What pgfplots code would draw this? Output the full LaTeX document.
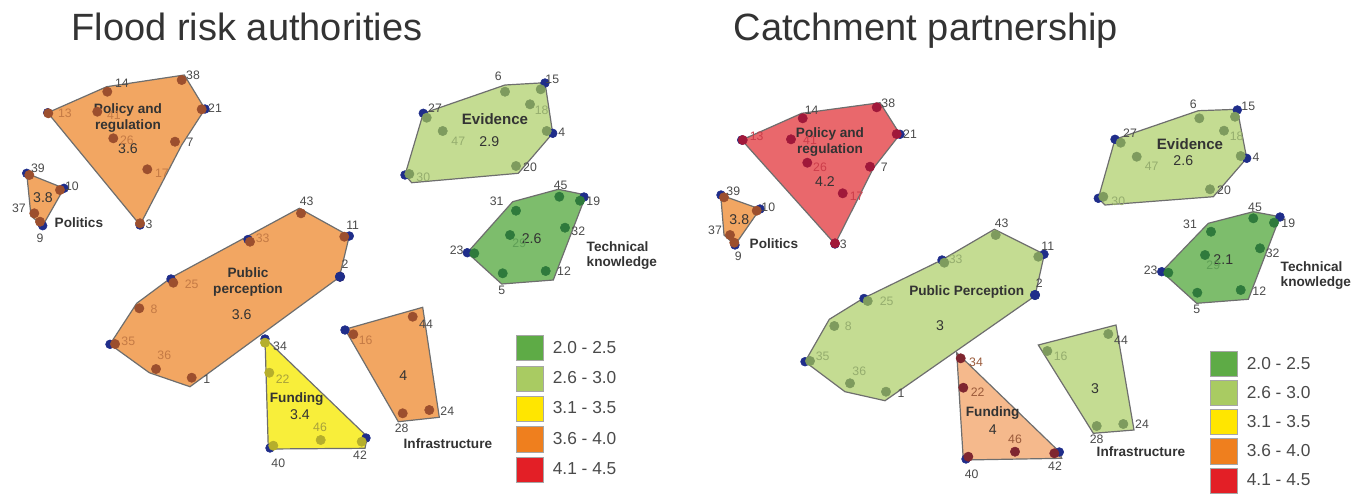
\documentclass[border=0pt]{standalone}
\usepackage{pgfplots}
\pgfplotsset{compat=1.18}
\usepackage{pgfplotstable}
\usepackage{fontspec}
\setmainfont{Liberation Sans}

% fills, points, labels
\definecolor{orF}{HTML}{F2A662}
\definecolor{orP}{HTML}{9C4F2E}
\definecolor{lgF}{HTML}{C4DC92}
\definecolor{lgP}{HTML}{7E9B5E}
\definecolor{dgF}{HTML}{7DBD6C}
\definecolor{dgP}{HTML}{2F7A3C}
\definecolor{yeF}{HTML}{F8EE3A}
\definecolor{yeP}{HTML}{B5AE2C}
\definecolor{reF}{HTML}{E9686C}
\definecolor{reP}{HTML}{A0183A}
\definecolor{loF}{HTML}{F5B98C}
\definecolor{loP}{HTML}{7F2630}
\definecolor{vtx}{HTML}{1F2D8A}
\definecolor{edge}{HTML}{6E6E6E}
\definecolor{lg}{HTML}{4A4A4A}
\definecolor{ttl}{HTML}{333333}
\definecolor{lbr}{HTML}{C47A45}
\definecolor{lol}{HTML}{95AD6E}
\definecolor{ldg}{HTML}{5E9E55}
\definecolor{lye}{HTML}{A8A13A}
\definecolor{lre}{HTML}{CC3D4A}
\definecolor{lfb}{HTML}{9A5A3A}
\definecolor{c1}{HTML}{5EAB46}
\definecolor{c2}{HTML}{A9CB62}
\definecolor{c3}{HTML}{FFE600}
\definecolor{c4}{HTML}{EF7F1E}
\definecolor{c5}{HTML}{E31F26}

\newcommand{\ptfont}{\fontsize{9.2}{10}\selectfont}
\newcommand{\grfont}{\fontsize{10.2}{11.5}\selectfont\bfseries}
\newcommand{\valfont}{\fontsize{10.6}{12}\selectfont}

% #1 fill, #2 point colour, #3 hull, #4 point table, #5 colour of labels inside (lc=1)
\newcommand{\cluster}[5]{%
  \addplot[forget plot, fill=#1, draw=edge, line width=0.9pt] coordinates {#3} -- cycle;
  \addplot[forget plot, only marks, mark=*, mark size=3.5pt, color=#2] table[x=x, y=y] {#4};
  \addplot[forget plot, draw=none, nodes near coords, point meta=explicit symbolic,
    restrict expr to domain={\thisrow{lc}}{-0.5:0.5},
    nodes near coords style={anchor=center, inner sep=0pt, font=\ptfont, text=lg}]
    table[x=lx, y=ly, meta=lab] {#4};
  \addplot[forget plot, draw=none, nodes near coords, point meta=explicit symbolic,
    restrict expr to domain={\thisrow{lc}}{0.5:1.5},
    nodes near coords style={anchor=center, inner sep=0pt, font=\ptfont, text=#5}]
    table[x=lx, y=ly, meta=lab] {#4};
}

\pgfplotsset{
  panel/.style={hide axis, scale only axis, width=511.5pt, height=369.75pt,
    ymin=0, ymax=493, y dir=reverse, clip=false,
    legend style={draw=none, fill=none, font=\fontsize{13}{15}\selectfont, text=lg,
      inner sep=0pt, cells={anchor=west},
      /tikz/every odd column/.append style={column sep=5pt}},
    legend cell align=left},
  legbox/.style={legend image code/.code={\draw[##1, draw=gray!70] (0pt,-9.4pt) rectangle (20pt,9.4pt);}}
}

% ---------- Flood risk authorities ----------
\pgfplotstableread{
x y lx ly lab lc
48.3 113.3 65 113 13 1
107.3 91.7 122 83 14 0
181.7 80 193 75 38 0
201.7 109.3 215 108 21 0
97.3 111.7 114 115 41 1
113.3 138.3 127 140 26 1
175 141.7 190 142 7 0
147.3 169.3 162 173 17 1
140 223.3 149 224 3 0
}\fraPolicy
\pgfplotstableread{
x y lx ly lab lc
29.3 175 38 168 39 0
60 190 72 186 10 0
34.3 213.3 19 208 37 1
40 221.7 40 238 9 0
}\fraPolitics
\pgfplotstableread{
x y lx ly lab lc
301 213.3 306.7 201.7 43 0
344.3 236.7 352.7 225 11 0
340 276.7 345 264 2 0
250 241.7 262.7 238.3 33 1
173.3 282.7 191.7 284 25 1
139.3 308.3 154 309 8 1
115 344 128.3 341.7 35 1
156 369 164.3 355 36 1
191.7 377.7 206.7 379.3 1 0
}\fraPublic
\pgfplotstableread{
x y lx ly lab lc
265 342.7 280 346 34 0
269.3 372.7 282.7 379.3 22 1
320.7 440 320 427.3 46 1
361.7 441.7 360 455 42 0
273.3 445.7 278.3 463.3 40 0
}\fraFunding
\pgfplotstableread{
x y lx ly lab lc
353.3 334.3 365.7 340.7 16 1
412.7 316.7 426 324.3 44 0
402.7 413.3 401.7 428.3 28 0
429.3 410 447.3 411.7 24 0
}\fraInfra
\pgfplotstableread{
x y lx ly lab lc
426.7 117.7 435 108.3 27 0
505 91.7 498.3 76.7 6 0
540.7 89.3 552.3 79 15 0
530 104.3 541.7 110.7 18 1
546.7 131 561.7 132.7 4 0
442.7 131 458.3 141.7 47 1
516 166 530 167.3 20 0
409.3 174 423.3 177.3 30 1
}\fraEvidence
\pgfplotstableread{
x y lx ly lab lc
516 210.7 496.7 201.7 31 0
559.3 196.7 560.7 185 45 0
580 200.7 593.3 201.7 19 0
565 227.7 578.3 231.7 32 0
510 235 519.3 243.3 29 1
474.3 253.3 456.7 250 23 0
502.7 273.3 501.7 290 5 0
545.7 271 564 271.7 12 0
}\fraTech

% ---------- Catchment partnership ----------
\pgfplotstableread{
x y lx ly lab lc
742.7 140 756.7 136 13 1
802.7 118.3 811.7 110.7 14 0
876.7 107.3 888.3 103.3 38 0
896.7 134 910 134 21 0
791 139.3 810 140.7 41 1
807.3 162.7 820 167.3 26 1
870 166.7 884.3 167.3 7 0
842.7 193.3 856.7 196.7 17 1
835 243.3 843.3 244.3 3 0
}\cpPolicy
\pgfplotstableread{
x y lx ly lab lc
724 197.3 733.3 191.7 39 0
756.7 210.7 768.3 207.7 10 0
730 235 715 230 37 1
734.3 242.7 738.3 256.7 9 0
}\cpPolitics
\pgfplotstableread{
x y lx ly lab lc
995.7 235 1001.7 223.3 43 0
1038.3 256.7 1047.7 246 11 0
1035 295 1039.3 283.3 2 0
944.3 262.7 955.7 259.3 33 1
867.7 301 886.7 301.7 25 1
834.3 326 848.3 326.7 8 1
810 361 822.7 356.7 35 1
850 383.3 859.3 371 36 1
886 391.7 901 393.3 1 0
}\cpPublic
\pgfplotstableread{
x y lx ly lab lc
960.7 358.3 976 362.3 34 1
963.3 387.7 977.7 392.7 22 1
1015 451.7 1015 439.3 46 1
1054.3 453.3 1055 466.7 42 0
968.3 456.7 971.7 474 40 0
}\cpFunding
\pgfplotstableread{
x y lx ly lab lc
1047.3 351 1060.7 356 16 1
1108.3 334 1121 340.7 44 0
1096.7 426 1096.7 439.3 28 0
1123.3 424 1142 424.3 24 0
}\cpInfra
\pgfplotstableread{
x y lx ly lab lc
1120.7 142.7 1130 133.3 27 0
1199.3 118.3 1193.3 104 6 0
1235 116.7 1248.3 106.7 15 0
1224 130.7 1236.7 136.7 18 1
1240.7 156 1256 157.7 4 0
1136.7 156.7 1151.7 166.7 47 1
1210 189.3 1224 190.7 20 0
1103.3 196.7 1118.3 201 30 1
}\cpEvidence
\pgfplotstableread{
x y lx ly lab lc
1211 231.7 1190 224.3 31 0
1253.3 218.3 1255 207.3 45 0
1274 222.7 1288.3 223.3 19 0
1260 248.3 1272.7 253.3 32 0
1205 255 1213.3 265 29 1
1168.3 272.7 1150.7 270 23 0
1197.3 292.7 1196.7 309.3 5 0
1240.7 290 1259.3 291.7 12 0
}\cpTech

\begin{document}
\begin{tikzpicture}
\begin{axis}[panel, xmin=0, xmax=682,
    legend style={at={(axis cs:516,335)}, anchor=north west, row sep=3.6pt}]
\addplot[forget plot, draw=none] coordinates {(0,0) (682,493)};
\node[anchor=base west, font=\fontsize{28.5}{30}\selectfont, text=ttl] at (axis cs:67,40) {Flood risk authorities};
% hull vertices (drawn under the points)
\addplot[forget plot, only marks, mark=*, mark size=3.3pt, color=vtx] coordinates {
  (47.7,112.7) (140,225) (205,109) (26.7,173.3) (64,188.3) (42.7,225.7)
  (110,344.3) (349.3,236) (248,239.5) (171,279) (265,339) (270,448) (366,438)
  (345,330) (423.3,113.3) (545,83) (552.7,133.3) (405,175) (584,197) (467.3,252.7)};
\cluster{orF}{orP}{(47.7,112.7) (106.7,86.7) (184.3,75) (205,109) (181.7,145) (140,225)}{\fraPolicy}{lbr}
\cluster{orF}{orP}{(26.7,173.3) (64,188.3) (42.7,225.7) (31,216)}{\fraPolitics}{lg}
\cluster{orF}{orP}{(110,344.3) (136.7,303.3) (171.7,277.3) (299.3,208.3) (349.3,236) (339.3,277.3) (190,386.7) (149.3,372.7)}{\fraPublic}{lbr}
\cluster{yeF}{yeP}{(265,338.3) (367.3,436.7) (365,448.3) (268.3,449)}{\fraFunding}{lye}
\cluster{orF}{orP}{(345,329.3) (422.7,307.3) (439.3,417.3) (398.3,421.7)}{\fraInfra}{lbr}
\cluster{lgF}{lgP}{(405,175) (423.3,113.3) (505,85) (545,82.7) (552.7,133.3) (518.3,173.3) (411.7,182.7)}{\fraEvidence}{lol}
\cluster{dgF}{dgP}{(467.3,252.7) (512.7,201.7) (558.3,189.3) (586,195) (553.3,280) (501.7,284)}{\fraTech}{ldg}
\addplot[forget plot, only marks, mark=*, mark size=3.6pt, color=vtx] coordinates {(340,276.7)};
% group names and mean scores
\node[font=\grfont, align=center, text=ttl] at (axis cs:128,118) {Policy and\\regulation};
\node[font=\valfont, text=ttl] at (axis cs:128,149) {3.6};
\node[font=\valfont, text=ttl] at (axis cs:43,198) {3.8};
\node[font=\grfont, anchor=west, text=ttl] at (axis cs:50,223) {Politics};
\node[font=\grfont, align=center, text=ttl] at (axis cs:248,282) {Public\\perception};
\node[font=\valfont, text=ttl] at (axis cs:241.7,315) {3.6};
\node[font=\grfont, text=ttl] at (axis cs:296.7,399) {Funding};
\node[font=\valfont, text=ttl] at (axis cs:300,415) {3.4};
\node[font=\valfont, text=ttl] at (axis cs:403.3,376) {4};
\node[font=\grfont, anchor=west, text=ttl] at (axis cs:399,444) {Infrastructure};
\node[font=\fontsize{11.3}{13}\selectfont\bfseries, text=ttl] at (axis cs:495,119) {Evidence};
\node[font=\valfont, text=ttl] at (axis cs:489.3,141.7) {2.9};
\node[font=\valfont, text=ttl] at (axis cs:531.7,239) {2.6};
\node[font=\grfont, anchor=west, align=left, text=ttl] at (axis cs:582,255.5) {Technical\\knowledge};
% legend
\addlegendimage{legbox, fill=c1}\addlegendentry{2.0 - 2.5}
\addlegendimage{legbox, fill=c2}\addlegendentry{2.6 - 3.0}
\addlegendimage{legbox, fill=c3}\addlegendentry{3.1 - 3.5}
\addlegendimage{legbox, fill=c4}\addlegendentry{3.6 - 4.0}
\addlegendimage{legbox, fill=c5}\addlegendentry{4.1 - 4.5}
\end{axis}

\begin{axis}[panel, at={(511.5pt,0pt)}, xmin=682, xmax=1364,
    legend style={at={(axis cs:1210,351)}, anchor=north west, row sep=2.6pt}]
\addplot[forget plot, draw=none] coordinates {(682,0) (1364,493)};
\node[anchor=base west, font=\fontsize{28.5}{30}\selectfont, text=ttl] at (axis cs:729,40) {Catchment partnership};
\addplot[forget plot, only marks, mark=*, mark size=3.3pt, color=vtx] coordinates {
  (741.7,140) (835,244) (900,134.3) (721,195) (760,209) (735,245)
  (805,361.7) (1044,254.3) (942,260) (864,298.5) (966,459) (1059.3,452)
  (1115,139.3) (1237.3,110) (1246.7,158.3) (1098.3,198.3) (1280,217) (1161.7,271.7)};
\cluster{reF}{reP}{(741.7,140) (801.7,113.3) (880,102.7) (900,134.3) (873.3,168.3) (835,244)}{\cpPolicy}{lre}
\cluster{orF}{orP}{(720.7,195) (760,209) (735,245) (724,235)}{\cpPolitics}{lg}
\cluster{lgF}{lgP}{(805,361.7) (829.3,319.3) (863.3,298.3) (941.7,260) (994.3,229.3) (1044.3,254.3) (1035,296) (885,400.7) (845,391.7)}{\cpPublic}{lol}
\cluster{loF}{loP}{(956.7,352.7) (1059.3,451.7) (1061.7,458.3) (963.3,460)}{\cpFunding}{lfb}
\cluster{lgF}{lgP}{(1038.3,345) (1116,325) (1134,430) (1093.3,433.3)}{\cpInfra}{lol}
\cluster{lgF}{lgP}{(1098.3,198.3) (1115,139.3) (1198.3,110.7) (1237.3,109.3) (1246.7,158.3) (1213.3,196.7) (1105,205)}{\cpEvidence}{lol}
\cluster{dgF}{dgP}{(1161.7,271.7) (1208.3,223.3) (1253.3,211.7) (1280,216.7) (1248.3,299.3) (1196.7,303.3)}{\cpTech}{ldg}
\addplot[forget plot, only marks, mark=*, mark size=3.6pt, color=vtx] coordinates {(1035,295)};
\node[font=\grfont, align=center, text=ttl] at (axis cs:830,142) {Policy and\\regulation};
\node[font=\valfont, text=ttl] at (axis cs:825,181.7) {4.2};
\node[font=\valfont, text=ttl] at (axis cs:739.3,220) {3.8};
\node[font=\grfont, anchor=west, text=ttl] at (axis cs:745,244) {Politics};
\node[font=\grfont, text=ttl] at (axis cs:966.7,291.7) {Public Perception};
\node[font=\valfont, text=ttl] at (axis cs:940,326) {3};
\node[font=\grfont, text=ttl] at (axis cs:992.7,412.7) {Funding};
\node[font=\valfont, text=ttl] at (axis cs:992.7,429.3) {4};
\node[font=\valfont, text=ttl] at (axis cs:1095,388.3) {3};
\node[font=\grfont, anchor=west, text=ttl] at (axis cs:1092,451.7) {Infrastructure};
\node[font=\fontsize{11.3}{13}\selectfont\bfseries, text=ttl] at (axis cs:1190,144) {Evidence};
\node[font=\valfont, text=ttl] at (axis cs:1183.3,160.7) {2.6};
\node[font=\valfont, text=ttl] at (axis cs:1223.3,259.3) {2.1};
\node[font=\grfont, anchor=west, align=left, text=ttl] at (axis cs:1276,275.5) {Technical\\knowledge};
\addlegendimage{legbox, fill=c1}\addlegendentry{2.0 - 2.5}
\addlegendimage{legbox, fill=c2}\addlegendentry{2.6 - 3.0}
\addlegendimage{legbox, fill=c3}\addlegendentry{3.1 - 3.5}
\addlegendimage{legbox, fill=c4}\addlegendentry{3.6 - 4.0}
\addlegendimage{legbox, fill=c5}\addlegendentry{4.1 - 4.5}
\end{axis}
\end{tikzpicture}
\end{document}
